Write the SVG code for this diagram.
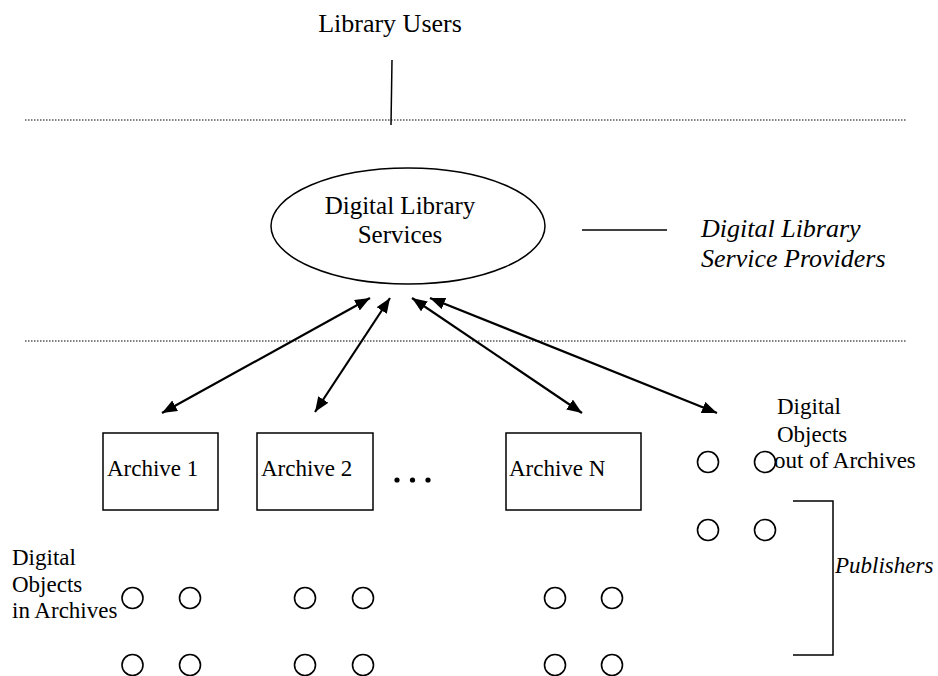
<svg xmlns="http://www.w3.org/2000/svg" width="938" height="676" viewBox="0 0 938 676" font-family="'Liberation Serif', 'Times New Roman', Times, 'DejaVu Serif', serif">
<style>
text{font-family:'Liberation Serif','Times New Roman',Times,'DejaVu Serif',serif;fill:#000}
.t26{font-size:26px}
.t25{font-size:25px}
.t23{font-size:23px}
.it{font-style:italic}
.box{fill:#fff;stroke:#000;stroke-width:1.5}
.dot{fill:none;stroke:#000;stroke-width:1.6}
.ln{stroke:#000;stroke-width:1.5;fill:none}
.dotted{stroke:#000;stroke-width:1.2;stroke-dasharray:1.5 1.5;fill:none}
.arr{stroke:#000;stroke-width:2.2;fill:none;marker-start:url(#ah);marker-end:url(#ah)}
</style>
<defs>
<marker id="ah" markerUnits="userSpaceOnUse" markerWidth="16" markerHeight="12" refX="15" refY="6" orient="auto-start-reverse">
<path d="M0,0 L15,6 L0,12 z" fill="#000"/>
</marker>
</defs>
<rect width="938" height="676" fill="#fff"/>

<g id="layers">
<line class="dotted" x1="25" y1="120" x2="907" y2="120"/>
<line class="dotted" x1="25" y1="341" x2="907" y2="341"/>
</g>

<g id="library-users">
<text class="t26" x="390" y="32" text-anchor="middle">Library Users</text>
</g>

<g id="services">
<ellipse cx="408" cy="226" rx="137" ry="58" class="box"/>
<text class="t25" x="400" y="214" text-anchor="middle">Digital Library</text>
<text class="t25" x="400" y="243" text-anchor="middle">Services</text>
</g>

<g id="service-providers">
<text class="t26 it" x="701" y="237">Digital Library</text>
<text class="t26 it" x="701" y="267">Service Providers</text>
</g>

<g id="archive1">
<rect class="box" x="103" y="433" width="115" height="77"/>
<text class="t23" x="107" y="476">Archive 1</text>
</g>
<g id="archive2">
<rect class="box" x="257" y="433" width="116" height="77"/>
<text class="t23" x="261" y="476">Archive 2</text>
</g>
<g id="ellipsis">
<circle cx="397" cy="480" r="2.6" fill="#000"/>
<circle cx="412.5" cy="480" r="2.6" fill="#000"/>
<circle cx="428" cy="480" r="2.6" fill="#000"/>
</g>
<g id="archiveN">
<rect class="box" x="506" y="433" width="135" height="77"/>
<text class="t23" x="509" y="476">Archive N</text>
</g>

<g id="objects-in-archives">
<text class="t23" x="12" y="565">Digital</text>
<text class="t23" x="12" y="592">Objects</text>
<text class="t23" x="12" y="618">in Archives</text>
<circle class="dot" cx="132.5" cy="598" r="10.5"/>
<circle class="dot" cx="190" cy="598" r="10.5"/>
<circle class="dot" cx="305" cy="598" r="10.5"/>
<circle class="dot" cx="363" cy="598" r="10.5"/>
<circle class="dot" cx="555" cy="598" r="10.5"/>
<circle class="dot" cx="612" cy="598" r="10.5"/>
<circle class="dot" cx="132.5" cy="665" r="10.5"/>
<circle class="dot" cx="190" cy="665" r="10.5"/>
<circle class="dot" cx="305" cy="665" r="10.5"/>
<circle class="dot" cx="363" cy="665" r="10.5"/>
<circle class="dot" cx="555" cy="665" r="10.5"/>
<circle class="dot" cx="612" cy="665" r="10.5"/>
</g>

<g id="objects-out-of-archives">
<text class="t23" x="777" y="414">Digital</text>
<text class="t23" x="777" y="442">Objects</text>
<text class="t23" x="774" y="468">out of Archives</text>
<circle class="dot" cx="708" cy="462" r="10.5"/>
<circle class="dot" cx="765" cy="462" r="10.5"/>
<circle class="dot" cx="708" cy="530" r="10.5"/>
<circle class="dot" cx="765" cy="530" r="10.5"/>
</g>

<g id="publishers">
<path class="ln" d="M793,501 H833 V655 H793"/>
<text class="t23 it" x="835" y="573">Publishers</text>
</g>

<g id="connectors">
<line class="ln" x1="392" y1="60" x2="391" y2="125"/>
<line class="ln" x1="582" y1="230" x2="667" y2="230"/>
<line class="arr" x1="370" y1="298" x2="162" y2="413"/>
<line class="arr" x1="390" y1="298" x2="315" y2="412"/>
<line class="arr" x1="412" y1="298" x2="582" y2="413"/>
<line class="arr" x1="430" y1="298" x2="717" y2="413"/>
</g>
</svg>
